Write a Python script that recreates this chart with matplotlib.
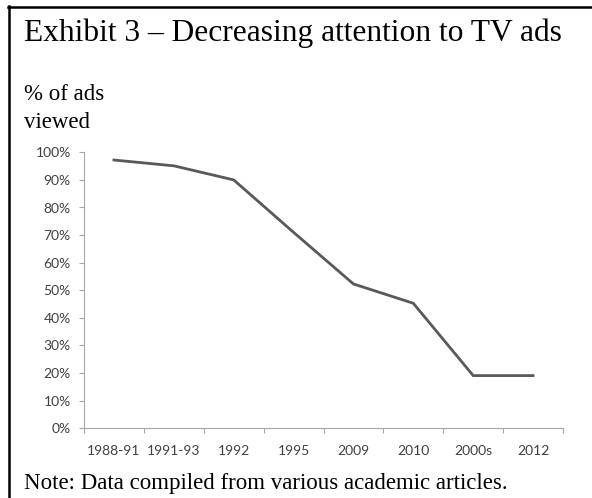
import matplotlib
matplotlib.use("Agg")
import matplotlib.pyplot as plt
from matplotlib.lines import Line2D
from matplotlib.ticker import FuncFormatter, FixedLocator
import numpy as np

periods = ['1988-91', '1991-93', '1992', '1995', '2009', '2010', '2000s', '2012']
viewed = [97.2, 95.1, 90, 71, 52.3, 45.3, 19.1, 19.1]

W, H = 592, 498
fig = plt.figure(figsize=(W / 100, H / 100), dpi=100)
ax = fig.add_axes([84 / W, 1 - 428.3 / H, (563 - 84) / W, (428.3 - 152.3) / H])

x = np.arange(len(periods)) + 0.5
ax.plot(x, viewed, color='#595959', lw=2.0, solid_joinstyle='miter')

ax.set_xlim(0, len(periods))
ax.set_ylim(0, 100)
ax.set_yticks(np.arange(0, 101, 10))
ax.yaxis.set_major_formatter(FuncFormatter(lambda v, p: '%d%%' % v))
ax.set_xticks(x)
ax.set_xticklabels(periods)
ax.xaxis.set_minor_locator(FixedLocator(np.arange(0, len(periods) + 1)))

for s in ['top', 'right']:
    ax.spines[s].set_visible(False)
for s in ['left', 'bottom']:
    ax.spines[s].set_color('#a6a6a6')
    ax.spines[s].set_linewidth(0.8)

ax.tick_params(axis='y', length=3.5, width=0.8, color='#a6a6a6', labelcolor='#404040',
               labelsize=10, pad=6)
ax.tick_params(axis='x', which='major', length=0, labelcolor='#404040', labelsize=10, pad=12)
ax.tick_params(axis='x', which='minor', length=3.5, width=0.8, color='#a6a6a6')
for lab in ax.get_xticklabels() + ax.get_yticklabels():
    lab.set_family('Lato')

serif = 'Liberation Serif'
tx = 24 / W
fig.text(tx, 1 - 40.7 / H, 'Exhibit 3 \u2013 Decreasing attention to TV ads',
         family=serif, fontsize=22.7, va='baseline', ha='left', color='black')
fig.text(tx, 1 - 100 / H, '% of ads', family=serif, fontsize=16.5,
         va='baseline', ha='left')
fig.text(tx, 1 - 128 / H, 'viewed', family=serif, fontsize=16.5,
         va='baseline', ha='left')
fig.text(tx, 1 - 489 / H, 'Note: Data compiled from various academic articles.',
         family=serif, fontsize=16.5, va='baseline', ha='left')

# frame edges of the exhibit box
fig.add_artist(Line2D([8.5 / W, 8.5 / W], [0, 1 - 6 / H], color='black', lw=1.8,
                      transform=fig.transFigure))
fig.add_artist(Line2D([7.5 / W, 1], [1 - 7 / H, 1 - 7 / H], color='black', lw=1.8,
                      transform=fig.transFigure))

fig.savefig('out.png', dpi=100)
